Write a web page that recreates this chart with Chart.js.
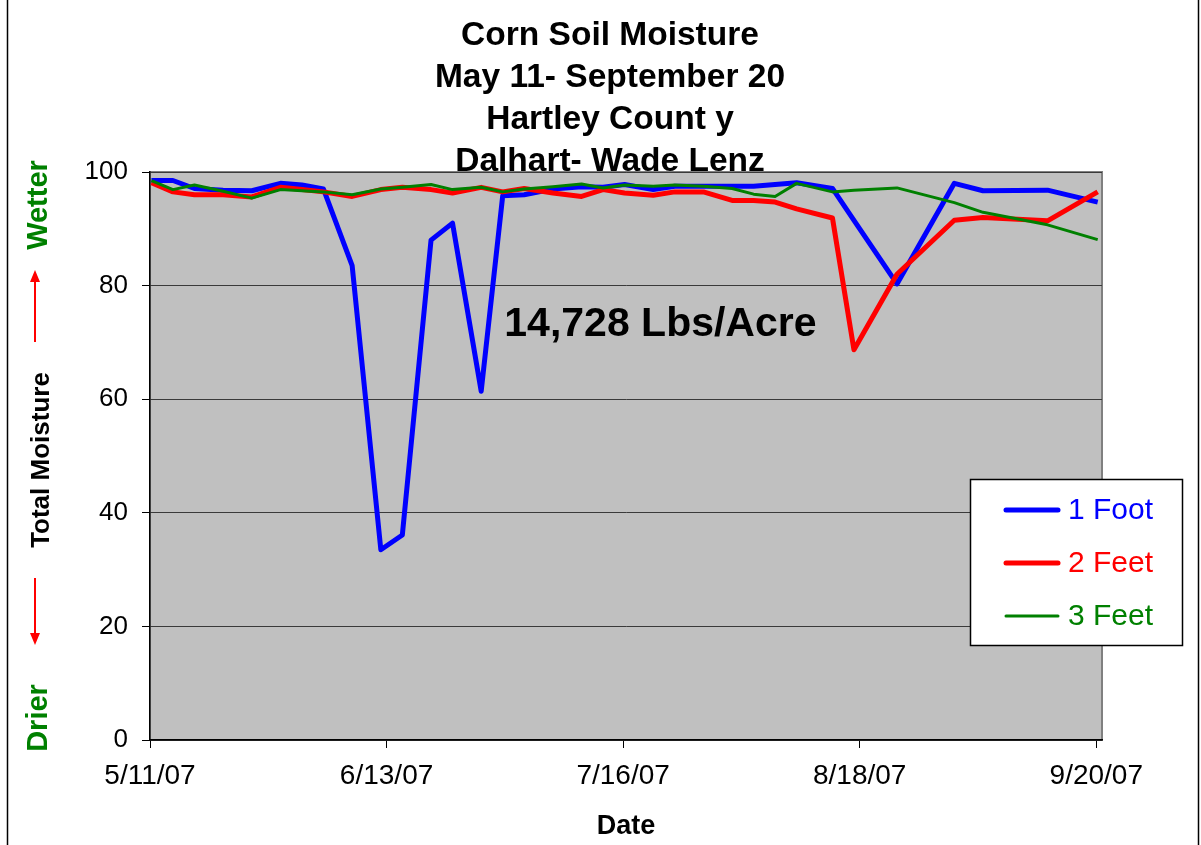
<!DOCTYPE html>
<html lang="en">
<head>
    <meta charset="UTF-8">
    <title>Corn Soil Moisture</title>
    <script src="https://cdn.jsdelivr.net/npm/chart.js"></script>
    <style>
        body { margin: 0; background: #fff; }
        #wrap { width: 1201px; height: 845px; }
    </style>
</head>
<body>
    <div id="wrap"><canvas id="moistureChart"></canvas></div>

    <script>
        const titleLines = ['Corn Soil Moisture', 'May 11- September 20', 'Hartley Count y', 'Dalhart- Wade Lenz'];

        // reading dates (m/d/yy)
        const dates = [
            '5/11/07', '5/14/07', '5/17/07', '5/21/07', '5/25/07', '5/29/07', '6/1/07', '6/4/07',
            '6/8/07', '6/12/07', '6/15/07', '6/19/07', '6/22/07', '6/26/07', '6/29/07', '7/2/07',
            '7/6/07', '7/10/07', '7/13/07', '7/16/07', '7/20/07', '7/23/07', '7/27/07', '7/31/07',
            '8/3/07', '8/6/07', '8/9/07', '8/14/07', '8/17/07', '8/23/07', '8/31/07', '9/4/07',
            '9/13/07', '9/20/07'
        ];
        const oneFoot = [
            98.5, 98.5, 97.1, 96.8, 96.7, 98.0, 97.7, 97.0,
            83.5, 33.5, 36.1, 88.0, 91.0, 61.4, 95.8, 96.0,
            97.0, 97.4, 97.3, 97.8, 96.9, 97.5, 97.5, 97.5,
            97.5, 97.8, 98.1, 97.1, 91.5, 80.3, 98.0, 96.7,
            96.8, 94.7
        ];
        const twoFeet = [
            98.1, 96.5, 96.0, 96.0, 95.6, 97.3, 96.9, 96.5,
            95.7, 96.9, 97.3, 96.9, 96.3, 97.3, 96.5, 97.1,
            96.3, 95.7, 96.9, 96.3, 95.9, 96.5, 96.5, 95.0,
            95.0, 94.7, 93.5, 91.9, 68.7, 82.0, 91.5, 92.0,
            91.4, 96.5
        ];
        const threeFeet = [
            98.5, 96.9, 97.7, 96.6, 95.4, 96.9, 96.7, 96.5,
            96.0, 97.0, 97.3, 97.8, 96.9, 97.3, 96.5, 97.0,
            97.4, 97.9, 97.2, 97.7, 97.5, 97.7, 97.5, 97.1,
            96.1, 95.7, 98.0, 96.5, 96.8, 97.2, 94.6, 92.9,
            90.7, 88.1
        ];

        const xTickLabels = ['5/11/07', '6/13/07', '7/16/07', '8/18/07', '9/20/07'];
        const yTicks = [0, 20, 40, 60, 80, 100];
        const yieldNote = '14,728 Lbs/Acre';

        const FONT = '"Liberation Sans", Arial, sans-serif';

        // days since the first reading, used for the linear x axis
        function dayOffset(s) {
            const [m, d, y] = s.split('/').map(Number);
            return (Date.UTC(2000 + y, m - 1, d) - Date.UTC(2007, 4, 11)) / 86400000;
        }

        // small nudge: readings sit just right of the day tick in the original
        function series(values) {
            return dates.map((d, i) => ({ x: dayOffset(d) + 0.2, y: values[i] }));
        }

        function arrow(ctx, x, yFrom, yTo) {
            const dir = yTo < yFrom ? -1 : 1;
            ctx.strokeStyle = '#ff0000';
            ctx.fillStyle = '#ff0000';
            ctx.lineWidth = 2;
            ctx.beginPath();
            ctx.moveTo(x, yFrom);
            ctx.lineTo(x, yTo - dir * 10);
            ctx.stroke();
            ctx.beginPath();
            ctx.moveTo(x, yTo);
            ctx.lineTo(x - 5, yTo - dir * 12);
            ctx.lineTo(x + 5, yTo - dir * 12);
            ctx.closePath();
            ctx.fill();
        }

        function vText(ctx, text, x, y, color, size) {
            ctx.save();
            ctx.translate(x, y);
            ctx.rotate(-Math.PI / 2);
            ctx.fillStyle = color;
            ctx.font = 'bold ' + size + 'px ' + FONT;
            ctx.textAlign = 'center';
            ctx.textBaseline = 'middle';
            ctx.fillText(text, 0, 0);
            ctx.restore();
        }

        const plotBackground = {
            id: 'plotBackground',
            beforeDraw(chart) {
                const { ctx, chartArea: a } = chart;
                ctx.save();
                ctx.fillStyle = '#c0c0c0';
                ctx.fillRect(a.left, a.top, a.right - a.left, a.bottom - a.top);
                ctx.strokeStyle = '#808080';
                ctx.lineWidth = 2;
                ctx.strokeRect(a.left, a.top, a.right - a.left, a.bottom - a.top);
                ctx.restore();
            }
        };

        const decorations = {
            id: 'decorations',
            afterDraw(chart) {
                const { ctx, scales } = chart;
                ctx.save();

                // title
                ctx.fillStyle = '#000';
                ctx.font = 'bold 33.5px ' + FONT;
                ctx.textAlign = 'center';
                ctx.textBaseline = 'middle';
                titleLines.forEach((t, i) => ctx.fillText(t, 610, 36 + i * 42));

                // y axis caption
                vText(ctx, 'Wetter', 39, 205, '#008000', 29);
                arrow(ctx, 35, 342, 270);
                vText(ctx, 'Total Moisture', 42, 460, '#000', 26);
                arrow(ctx, 35, 578, 645);
                vText(ctx, 'Drier', 39, 718, '#008000', 29);

                // yield note
                ctx.fillStyle = '#000';
                ctx.font = 'bold 41px ' + FONT;
                ctx.textAlign = 'center';
                ctx.textBaseline = 'middle';
                ctx.fillText(yieldNote, scales.x.getPixelForValue(71.2), scales.y.getPixelForValue(73.1));

                // legend
                ctx.fillStyle = '#fff';
                ctx.fillRect(970, 479, 212, 166);
                ctx.strokeStyle = '#000';
                ctx.lineWidth = 1.5;
                ctx.strokeRect(970.5, 479.5, 212, 166);
                ctx.font = '30px ' + FONT;
                ctx.textAlign = 'left';
                chart.data.datasets.forEach((ds, i) => {
                    const y = 510 + i * 53;
                    ctx.strokeStyle = ds.borderColor;
                    ctx.lineWidth = ds.borderWidth;
                    ctx.lineCap = 'round';
                    ctx.beginPath();
                    ctx.moveTo(1006, y);
                    ctx.lineTo(1058, y);
                    ctx.stroke();
                    ctx.fillStyle = ds.borderColor;
                    ctx.fillText(ds.label, 1068, y + 1);
                });

                // outer frame
                ctx.strokeStyle = '#000';
                ctx.lineWidth = 1.5;
                ctx.strokeRect(7.5, -5, 1191, 860);
                ctx.restore();
            }
        };

        new Chart(document.getElementById('moistureChart'), {
            type: 'line',
            data: {
                datasets: [
                    {
                        label: '1 Foot',
                        data: series(oneFoot),
                        borderColor: '#0000ff',
                        borderWidth: 5,
                        order: 2
                    },
                    {
                        label: '2 Feet',
                        data: series(twoFeet),
                        borderColor: '#ff0000',
                        borderWidth: 5,
                        order: 1
                    },
                    {
                        label: '3 Feet',
                        data: series(threeFeet),
                        borderColor: '#008000',
                        borderWidth: 3,
                        order: 0
                    }
                ]
            },
            options: {
                responsive: true,
                maintainAspectRatio: false,
                animation: false,
                layout: { padding: { top: 172, right: 99, left: 0, bottom: 0 } },
                elements: {
                    line: { tension: 0, fill: false, borderJoinStyle: 'round' },
                    point: { radius: 0 }
                },
                plugins: {
                    legend: { display: false },
                    title: { display: false },
                    tooltip: { enabled: false }
                },
                scales: {
                    x: {
                        type: 'linear',
                        min: 0,
                        max: 132.8,
                        afterBuildTicks: s => { s.ticks = xTickLabels.map(l => ({ value: dayOffset(l) })); },
                        afterFit: s => { s.height = 105; },
                        ticks: {
                            autoSkip: false,
                            maxRotation: 0,
                            padding: 11,
                            color: '#000',
                            font: { family: FONT, size: 28 },
                            callback: v => xTickLabels.find(l => dayOffset(l) === v) || ''
                        },
                        grid: { drawOnChartArea: false, tickLength: 8, tickColor: '#000' },
                        border: { color: '#000', width: 1.5 },
                        title: {
                            display: true,
                            text: 'Date',
                            color: '#000',
                            font: { family: FONT, size: 27, weight: 'bold' },
                            padding: { top: 0, bottom: 2 }
                        }
                    },
                    y: {
                        min: 0,
                        max: 100,
                        afterBuildTicks: s => { s.ticks = yTicks.map(v => ({ value: v })); },
                        afterFit: s => { s.width = 150; },
                        ticks: {
                            padding: 14,
                            color: '#000',
                            font: { family: FONT, size: 26 }
                        },
                        grid: { color: '#3a3a3a', lineWidth: 1, tickLength: 8, tickColor: '#000' },
                        border: { color: '#000', width: 1.5 }
                    }
                }
            },
            plugins: [plotBackground, decorations]
        });
    </script>
</body>
</html>
